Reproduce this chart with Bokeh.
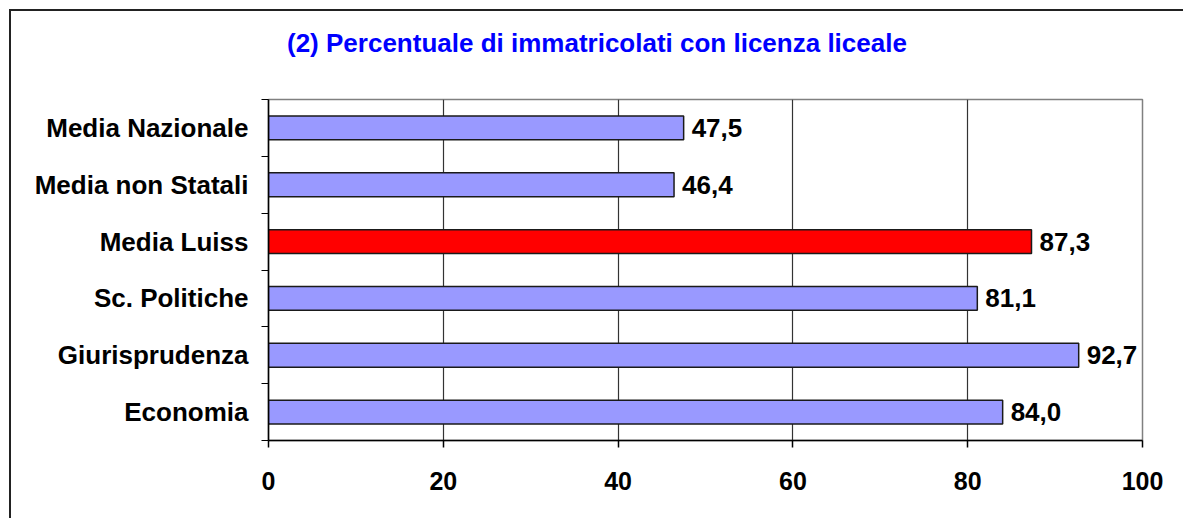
from bokeh.plotting import figure
from bokeh.layouts import column
from bokeh.models import (Range1d, FixedTicker, LinearAxis, ColumnDataSource, Div)
from bokeh.core.properties import value
from bokeh.embed import file_html
from bokeh.resources import INLINE

# data (top to bottom as in the chart)
categories = ["Media Nazionale", "Media non Statali", "Media Luiss",
              "Sc. Politiche", "Giurisprudenza", "Economia"]
values = [47.5, 46.4, 87.3, 81.1, 92.7, 84.0]
value_labels = ["47,5", "46,4", "87,3", "81,1", "92,7", "84,0"]
bar_colors = ["#9999FF", "#9999FF", "#FF0000", "#9999FF", "#9999FF", "#9999FF"]
x_ticks = [0, 20, 40, 60, 80, 100]
title_text = "(2) Percentuale di immatricolati con licenza liceale"

FONT = "Liberation Sans"

n = len(categories)
ypos = [n - i - 0.5 for i in range(n)]  # slot centres, first category on top
src = ColumnDataSource(dict(y=ypos, cat=categories, val=values, lab=value_labels, col=bar_colors))

W = 1172
TITLE_H = 48
H = 507 - TITLE_H

p = figure(width=W, height=H, output_backend="svg", toolbar_location=None,
           x_range=Range1d(0, 100), y_range=Range1d(0, n),
           x_axis_location=None, y_axis_location=None,
           min_border_left=257, min_border_right=41, min_border_top=88 - TITLE_H,
           min_border_bottom=78)
p.background_fill_color = "white"
p.border_fill_color = "white"
p.outline_line_color = "#808080"
p.outline_line_width = 1.5

# x axis
xa = LinearAxis(ticker=FixedTicker(ticks=x_ticks))
xa.axis_line_color = "black"
xa.axis_line_width = 1.5
xa.major_tick_line_color = "black"
xa.major_tick_line_width = 1.5
xa.major_tick_out = 7
xa.major_tick_in = 0
xa.minor_tick_line_color = None
xa.major_label_text_font = FONT
xa.major_label_text_font_style = "bold"
xa.major_label_text_font_size = "25px"
xa.major_label_text_color = "black"
xa.major_label_standoff = 24
p.add_layout(xa, "below")

# y tick-mark axis at category boundaries
ta = LinearAxis(ticker=FixedTicker(ticks=list(range(n + 1))))
ta.axis_line_color = "black"
ta.axis_line_width = 1.5
ta.major_tick_line_color = "black"
ta.major_tick_line_width = 1.2
ta.major_tick_out = 7
ta.major_tick_in = 0
ta.minor_tick_line_color = None
ta.major_label_overrides = {i: "" for i in range(n + 1)}
ta.major_label_text_font_size = "1px"
ta.major_label_standoff = 0
p.add_layout(ta, "left")

# y category label axis
ya = LinearAxis(ticker=FixedTicker(ticks=ypos))
ya.major_label_overrides = {y: c for y, c in zip(ypos, categories)}
ya.axis_line_color = None
ya.major_tick_line_color = None
ya.minor_tick_line_color = None
ya.major_label_text_font = FONT
ya.major_label_text_font_style = "bold"
ya.major_label_text_font_size = "26px"
ya.major_label_text_color = "black"
ya.major_label_standoff = 7
p.add_layout(ya, "left")

# grid
p.xgrid.ticker = FixedTicker(ticks=[20, 40, 60, 80])
p.xgrid.grid_line_color = "#333333"
p.xgrid.grid_line_width = 1.2
p.ygrid.grid_line_color = None

p.hbar(y="y", right="val", left=0, height=0.42, source=src,
       fill_color="col", line_color="#1a1a1a", line_width=1.5)

p.text(x="val", y="y", text="lab", source=src, x_offset=8,
       text_baseline="middle", text_align="left",
       text_font=value(FONT), text_font_style="bold", text_font_size="26px",
       text_color="black")

# chart title as a heading above the plot
title = Div(text=(f'<div style="position:relative; left:276px; top:19px; margin:0; padding:0; '
                  f'font-family:\'{FONT}\'; font-weight:bold; font-size:26px; line-height:26px; '
                  f'color:#0000FF; white-space:nowrap;">{title_text}</div>'),
            width=W, height=TITLE_H, styles={"margin": "0", "padding": "0"})

layout = column(title, p, spacing=0,
                styles={"margin-left": "9px", "margin-top": "9px",
                        "border-top": "2px solid #222222",
                        "border-left": "2px solid #222222",
                        "background-color": "white"})

open("out.html", "w").write(file_html(layout, INLINE))
